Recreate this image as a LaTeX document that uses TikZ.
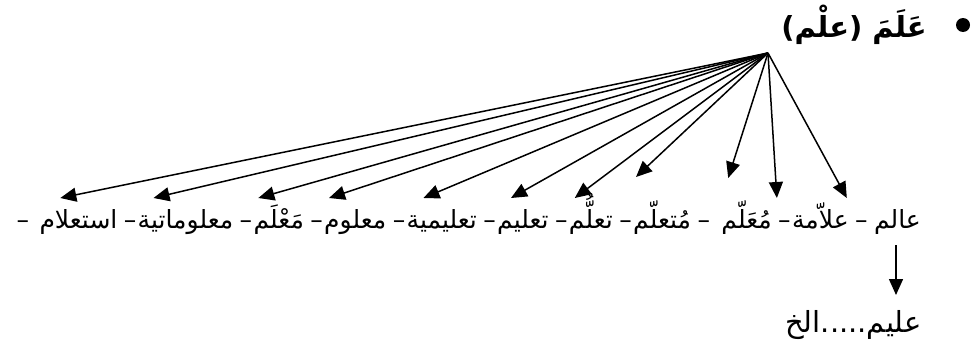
\documentclass[tikz,border=0pt]{standalone}
\usepackage{fontspec}
\newfontfamily\arabicfont[Script=Arabic]{DejaVu Sans}
\TeXXeTstate=1
\usetikzlibrary{arrows.meta,positioning}

\begin{document}
\begin{tikzpicture}[x=1pt,y=-1pt,
word/.style={anchor=base,inner sep=0pt,font=\arabicfont\fontsize{25}{29}\selectfont},
arr/.style={-{Triangle[length=16pt,width=14pt]},line width=1.5pt}
]
\useasboundingbox (0,0) rectangle (978,356);
\node[word,anchor=base east,font=\arabicfont\bfseries\fontsize{29}{34}\selectfont] (title) at (927,37) {\beginR عَلَمَ (علْم)\endR};
\node[circle,fill,inner sep=0pt,minimum size=14pt] (dot) at (963,25) {};
\coordinate (hub) at (768,53);
\node[word,anchor=base east] (w1) at (921,228) {\beginR عالم\endR};
\node[word,base left=6pt of w1] (d1) {–};
\node[word,base left=6pt of d1] (w2) {\beginR علاّمة\endR};
\node[word,base left=1pt of w2] (d2) {–};
\node[word,base left=6pt of d2] (w3) {\beginR مُعَلّم\endR};
\node[word,base left=11pt of w3] (d3) {–};
\node[word,base left=6pt of d3] (w4) {\beginR مُتعلّم\endR};
\node[word,base left=1pt of w4] (d4) {–};
\node[word,base left=6pt of d4] (w5) {\beginR تعلُّم\endR};
\node[word,base left=1pt of w5] (d5) {–};
\node[word,base left=6pt of d5] (w6) {\beginR تعليم\endR};
\node[word,base left=1pt of w6] (d6) {–};
\node[word,base left=6pt of d6] (w7) {\beginR تعليمية\endR};
\node[word,base left=1pt of w7] (d7) {–};
\node[word,base left=6pt of d7] (w8) {\beginR معلوم\endR};
\node[word,base left=1pt of w8] (d8) {–};
\node[word,base left=6pt of d8] (w9) {\beginR مَعْلَم\endR};
\node[word,base left=1pt of w9] (d9) {–};
\node[word,base left=6pt of d9] (w10) {\beginR معلوماتية\endR};
\node[word,base left=1pt of w10] (d10) {–};
\node[word,base left=6pt of d10] (w11) {\beginR استعلام\endR};
\node[word,base left=10pt of w11] (d11) {–};
\foreach \i/\dx/\up in {1/-27/30,2/-15/30,3/7/50,4/3/51,5/6/30,6/14/30,7/17/30,8/5/30,9/5/30,10/16/30,11/21/30}{
  \coordinate (t\i) at ([xshift=\dx pt,yshift=\up pt]w\i.base west);
  \draw[arr] (hub) -- (t\i);
}
\node[word,anchor=base east,font=\arabicfont\fontsize{29}{32}\selectfont] (etc) at (922,332) {\beginR عليم.....الخ\endR};
\draw[arr] ([xshift=-25pt,yshift=-17pt]w1.base east) -- ([xshift=-26pt,yshift=37pt]etc.base east);
\end{tikzpicture}
\end{document}
